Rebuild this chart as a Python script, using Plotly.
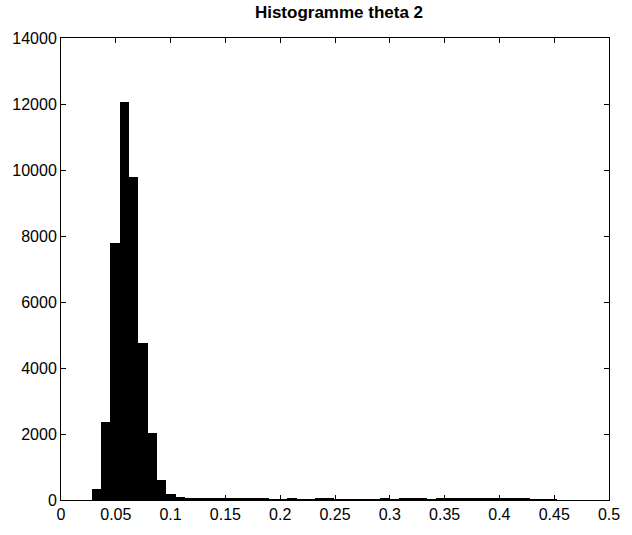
import plotly.graph_objects as go

# Histogram data (MATLAB hist, 50 bins)
bin_start = 0.028
bin_width = 0.0085
counts = [330, 2350, 7790, 12060, 9800, 4750, 2040, 620, 170, 100,
          60, 45, 42, 40, 40, 38, 37, 35, 32, 5,
          30, 32, 30, 28, 32, 35, 30, 25, 5, 28,
          30, 32, 15, 35, 40, 55, 5, 50, 55, 60,
          60, 58, 55, 60, 55, 58, 55, 15, 18, 15]
centers = [bin_start + bin_width * (i + 0.5) for i in range(len(counts))]

x_ticks = [0, 0.05, 0.1, 0.15, 0.2, 0.25, 0.3, 0.35, 0.4, 0.45, 0.5]
x_tick_labels = ["0", "0.05", "0.1", "0.15", "0.2", "0.25", "0.3", "0.35", "0.4", "0.45", "0.5"]
y_ticks = [0, 2000, 4000, 6000, 8000, 10000, 12000, 14000]
y_tick_labels = ["0", "2000", "4000", "6000", "8000", "10000", "12000", "14000"]
title_text = "Histogramme theta 2"

fig = go.Figure()
fig.add_trace(go.Bar(x=centers, y=counts, width=bin_width,
                     marker=dict(color="black", line=dict(width=0))))

axis_common = dict(showline=True, linecolor="black", linewidth=1, mirror="ticks",
                   ticks="inside", ticklen=5, tickcolor="black", showgrid=False,
                   zeroline=False, tickfont=dict(size=16, color="black"))

fig.update_layout(
    width=632, height=535,
    margin=dict(l=61, r=15, t=38, b=27),
    paper_bgcolor="white", plot_bgcolor="white",
    font=dict(family="Liberation Sans, Arial, sans-serif", color="black"),
    title=dict(text="<b>" + title_text + "</b>", x=339 / 632, xanchor="center",
               y=1 - 12 / 535, yanchor="middle", font=dict(size=17)),
    bargap=0, showlegend=False,
)
fig.update_xaxes(range=[0, 0.5], tickvals=x_ticks, ticktext=x_tick_labels, **axis_common)
fig.update_yaxes(range=[0, 14000], tickvals=y_ticks, ticktext=y_tick_labels, **axis_common)

fig.write_html("out.html")
